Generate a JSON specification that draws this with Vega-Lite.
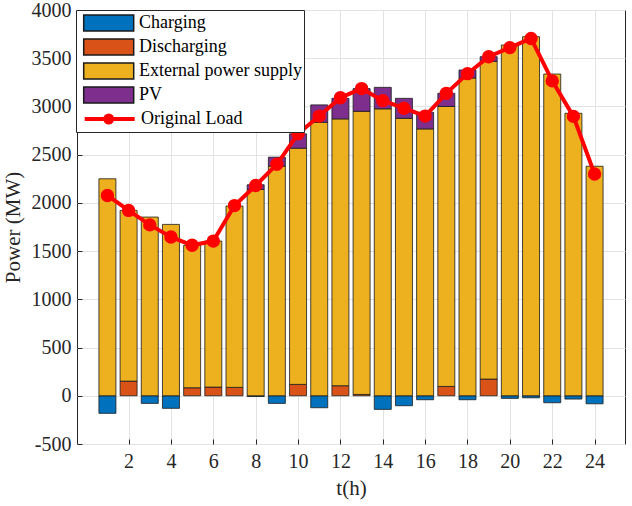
{
  "$schema": "https://vega.github.io/schema/vega-lite/v6.json",
  "description": "Stacked power supply by hour with original load line",
  "autosize": {"type": "none"},
  "padding": {"left": 77, "top": 10, "right": 7, "bottom": 62},
  "width": 548,
  "height": 434,
  "datasets": {
    "bars": [
      {"hour": 1, "series": "Charging", "value": -182},
      {"hour": 1, "series": "External power supply", "value": 2250},
      {"hour": 2, "series": "Discharging", "value": 152},
      {"hour": 2, "series": "External power supply", "value": 1770},
      {"hour": 3, "series": "Charging", "value": -79},
      {"hour": 3, "series": "External power supply", "value": 1853},
      {"hour": 4, "series": "Charging", "value": -130},
      {"hour": 4, "series": "External power supply", "value": 1777},
      {"hour": 5, "series": "Discharging", "value": 83},
      {"hour": 5, "series": "External power supply", "value": 1477},
      {"hour": 6, "series": "Discharging", "value": 90},
      {"hour": 6, "series": "External power supply", "value": 1514},
      {"hour": 7, "series": "Discharging", "value": 87},
      {"hour": 7, "series": "External power supply", "value": 1880},
      {"hour": 8, "series": "Charging", "value": -8},
      {"hour": 8, "series": "External power supply", "value": 2139},
      {"hour": 8, "series": "PV", "value": 49},
      {"hour": 9, "series": "Charging", "value": -79},
      {"hour": 9, "series": "External power supply", "value": 2381},
      {"hour": 9, "series": "PV", "value": 93},
      {"hour": 10, "series": "Discharging", "value": 118},
      {"hour": 10, "series": "External power supply", "value": 2449},
      {"hour": 10, "series": "PV", "value": 149},
      {"hour": 11, "series": "Charging", "value": -124},
      {"hour": 11, "series": "External power supply", "value": 2836},
      {"hour": 11, "series": "PV", "value": 180},
      {"hour": 12, "series": "Discharging", "value": 104},
      {"hour": 12, "series": "External power supply", "value": 2767},
      {"hour": 12, "series": "PV", "value": 213},
      {"hour": 13, "series": "Discharging", "value": 14},
      {"hour": 13, "series": "External power supply", "value": 2936},
      {"hour": 13, "series": "PV", "value": 235},
      {"hour": 14, "series": "Charging", "value": -141},
      {"hour": 14, "series": "External power supply", "value": 2975},
      {"hour": 14, "series": "PV", "value": 223},
      {"hour": 15, "series": "Charging", "value": -103},
      {"hour": 15, "series": "External power supply", "value": 2877},
      {"hour": 15, "series": "PV", "value": 207},
      {"hour": 16, "series": "Charging", "value": -41},
      {"hour": 16, "series": "External power supply", "value": 2767},
      {"hour": 16, "series": "PV", "value": 172},
      {"hour": 17, "series": "Discharging", "value": 97},
      {"hour": 17, "series": "External power supply", "value": 2903},
      {"hour": 17, "series": "PV", "value": 136},
      {"hour": 18, "series": "Charging", "value": -41},
      {"hour": 18, "series": "External power supply", "value": 3295},
      {"hour": 18, "series": "PV", "value": 83},
      {"hour": 19, "series": "Discharging", "value": 173},
      {"hour": 19, "series": "External power supply", "value": 3294},
      {"hour": 19, "series": "PV", "value": 49},
      {"hour": 20, "series": "Charging", "value": -27},
      {"hour": 20, "series": "External power supply", "value": 3637},
      {"hour": 21, "series": "Charging", "value": -21},
      {"hour": 21, "series": "External power supply", "value": 3723},
      {"hour": 22, "series": "Charging", "value": -72},
      {"hour": 22, "series": "External power supply", "value": 3336},
      {"hour": 23, "series": "Charging", "value": -34},
      {"hour": 23, "series": "External power supply", "value": 2929},
      {"hour": 24, "series": "Charging", "value": -83},
      {"hour": 24, "series": "External power supply", "value": 2380}
    ],
    "load": [
      {"hour": 1, "series": "Original Load", "value": 2077},
      {"hour": 2, "series": "Original Load", "value": 1922},
      {"hour": 3, "series": "Original Load", "value": 1772},
      {"hour": 4, "series": "Original Load", "value": 1647},
      {"hour": 5, "series": "Original Load", "value": 1560},
      {"hour": 6, "series": "Original Load", "value": 1604},
      {"hour": 7, "series": "Original Load", "value": 1972},
      {"hour": 8, "series": "Original Load", "value": 2180},
      {"hour": 9, "series": "Original Load", "value": 2400},
      {"hour": 10, "series": "Original Load", "value": 2716},
      {"hour": 11, "series": "Original Load", "value": 2900},
      {"hour": 12, "series": "Original Load", "value": 3090},
      {"hour": 13, "series": "Original Load", "value": 3185},
      {"hour": 14, "series": "Original Load", "value": 3060},
      {"hour": 15, "series": "Original Load", "value": 2982},
      {"hour": 16, "series": "Original Load", "value": 2900},
      {"hour": 17, "series": "Original Load", "value": 3136},
      {"hour": 18, "series": "Original Load", "value": 3340},
      {"hour": 19, "series": "Original Load", "value": 3516},
      {"hour": 20, "series": "Original Load", "value": 3610},
      {"hour": 21, "series": "Original Load", "value": 3705},
      {"hour": 22, "series": "Original Load", "value": 3265},
      {"hour": 23, "series": "Original Load", "value": 2897},
      {"hour": 24, "series": "Original Load", "value": 2300}
    ]
  },
  "encoding": {
    "x": {
      "field": "hour",
      "type": "quantitative",
      "title": "t(h)",
      "scale": {"domain": [-0.2, 25.2], "nice": false, "zero": false},
      "axis": {"values": [2, 4, 6, 8, 10, 12, 14, 16, 18, 20, 22, 24], "labelPadding": 12}
    },
    "y": {
      "field": "value",
      "type": "quantitative",
      "title": "Power (MW)",
      "scale": {"domain": [-500, 4000], "nice": false},
      "axis": {
        "values": [-500, 0, 500, 1000, 1500, 2000, 2500, 3000, 3500, 4000],
        "labelExpr": "datum.value + ''",
        "labelPadding": 11,
        "titlePadding": 8
      }
    }
  },
  "layer": [
    {
      "data": {"name": "bars"},
      "mark": {"type": "bar", "width": 17, "stroke": "#1a1a1a", "strokeWidth": 0.8},
      "encoding": {
        "color": {
          "field": "series",
          "type": "nominal",
          "scale": {
            "domain": ["Charging", "Discharging", "External power supply", "PV", "Original Load"],
            "range": ["#0072BD", "#D95319", "#EDB120", "#7E2F8E", "#FF0000"]
          },
          "legend": {
            "title": null,
            "orient": "none",
            "legendX": -1,
            "legendY": 0,
            "padding": 2,
            "symbolSize": 400,
            "symbolType": "M-0.53,-0.8H4.47V0.8H-0.53Z",
            "labelOffset": 39,
            "labelFontSize": 18,
            "labelLimit": 300,
            "fillColor": "#ffffff",
            "strokeColor": "#262626"
          }
        },
        "order": {"field": "series", "sort": "ascending"}
      }
    },
    {
      "mark": {"type": "rule", "color": "#8c8c8c", "strokeWidth": 1},
      "encoding": {"y": {"datum": 0}, "x": null}
    },
    {
      "data": {"name": "load"},
      "mark": {"type": "line", "strokeWidth": 4, "point": {"filled": true, "color": "#FF0000", "size": 130}},
      "encoding": {
        "stroke": {
          "field": "series",
          "type": "nominal",
          "scale": {"domain": ["Original Load"], "range": ["#FF0000"]},
          "legend": {
            "title": null,
            "orient": "none",
            "legendX": 1,
            "legendY": 97,
            "padding": 0,
            "symbolSize": 400,
            "symbolType": "M-0.53,0H4.47M1.52,0A0.35,0.35 0 1,1 2.22,0A0.35,0.35 0 1,1 1.52,0",
            "symbolStrokeWidth": 4,
            "labelOffset": 39,
            "labelFontSize": 18,
            "labelLimit": 300,
            "fillColor": "#ffffff"
          }
        }
      }
    }
  ],
  "config": {
    "font": "Liberation Serif",
    "background": "#ffffff",
    "view": {"stroke": "#262626", "strokeWidth": 1},
    "axis": {
      "domain": false,
      "tickSize": -5,
      "tickColor": "#262626",
      "grid": true,
      "gridColor": "#e3e3e3",
      "labelFont": "Liberation Serif",
      "labelFontSize": 20,
      "labelColor": "#262626",
      "titleFont": "Liberation Serif",
      "titleFontSize": 21,
      "titleFontWeight": "normal",
      "titleColor": "#262626"
    },
    "axisX": {"titlePadding": 6},
    "legend": {"labelFont": "Liberation Serif", "labelColor": "#000000"}
  }
}
